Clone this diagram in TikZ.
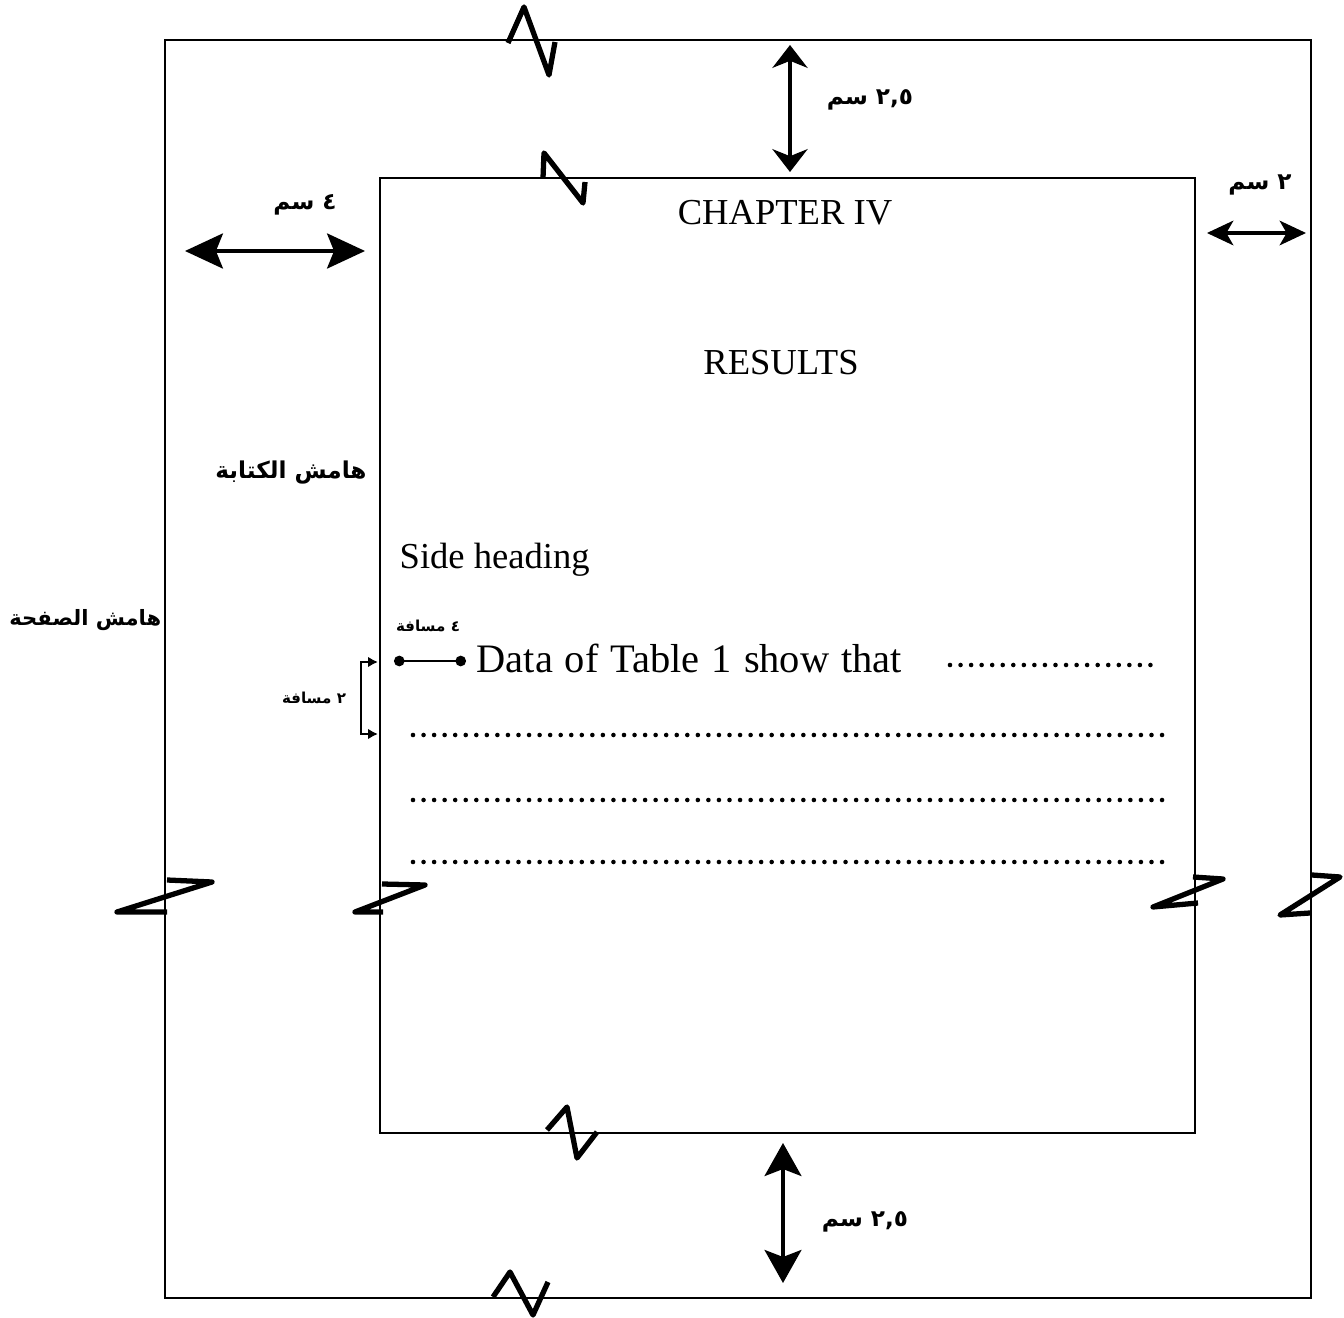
\documentclass[tikz,border=0pt]{standalone}
\usepackage{fontspec}
\setmainfont{Liberation Serif}
\newfontfamily\arabicfont[Script=Arabic]{DejaVu Sans}
\TeXXeTstate=1
\usetikzlibrary{arrows.meta}

\tikzset{
    sheet/.style={line width=0.8pt},
    breakmark/.style={line width=1.5pt, line join=round},
    dimarrow/.style 2 args={line width=0.9pt, {Stealth[length=#1,width=#2,inset=2pt]}-{Stealth[length=#1,width=#2,inset=2pt]}},
    arlabel/.style={inner sep=0pt, font=\arabicfont\bfseries\fontsize{6.6}{8}\selectfont},
    smalllabel/.style={inner sep=0pt, font=\arabicfont\bfseries\fontsize{4.3}{5}\selectfont},
    dotrow/.style={line width=1.3pt, line cap=round, dash pattern=on 0pt off 3pt},
}

\begin{document}
\begin{tikzpicture}[x=0.01cm, y=-0.01cm, font=\fontsize{10.4}{12}\selectfont]
            \useasboundingbox (0,0) rectangle (1344,1318);
            % page and text area
            \coordinate (pageNW) at (165,40);
            \coordinate (pageSE) at (1311,1298);
            \coordinate (textNW) at (380,178);
            \coordinate (textSE) at (1195,1133);
            \draw[sheet] (pageNW) rectangle (pageSE);
            \draw[sheet] (textNW) rectangle (textSE);
            % break marks
            \draw[breakmark] (508,43)--(524,7)--(549,75)--(555,42);
            \draw[breakmark] (543,178)--(544,153)--(583,203)--(585,182);
            \draw[breakmark] (547,1130)--(567,1107)--(577,1158)--(597,1132);
            \draw[breakmark] (493,1297)--(510,1272)--(533,1315)--(548,1282);
            \draw[breakmark] (167,880)--(212,882)--(117,912)--(167,912);
            \draw[breakmark] (382,884)--(425,885)--(355,912)--(383,912);
            \draw[breakmark] (1193,877)--(1223,879)--(1153,907)--(1198,903);
            \draw[breakmark] (1312,875)--(1340,877)--(1280,915)--(1310,913);
            % margins
            \coordinate (topA) at (790,45);
            \coordinate (topB) at (790,172);
            \draw[dimarrow={6.5pt}{10pt}] (topA) -- (topB);
            \node[arlabel] (topgap) at (870,100) {\beginR ٢,٥ سم\endR};
            \coordinate (leftA) at (185,251);
            \coordinate (leftB) at (365,251);
            \draw[dimarrow={10.8pt}{10pt}] (leftA) -- (leftB);
            \node[arlabel] (leftgap) at (305,205) {\beginR ٤ سم\endR};
            \coordinate (rightA) at (1207,233);
            \coordinate (rightB) at (1306,233);
            \draw[dimarrow={7.5pt}{7pt}] (rightA) -- (rightB);
            \node[arlabel] (rightgap) at (1260,185) {\beginR ٢ سم\endR};
            \coordinate (botA) at (783,1143);
            \coordinate (botB) at (783,1283);
            \draw[dimarrow={9.4pt}{10.5pt}] (botA) -- (botB);
            \node[arlabel] (botgap) at (865,1222) {\beginR ٢,٥ سم\endR};
            \node[arlabel] (writing) at (291,473) {\beginR هامش الكتابة\endR};
            \node[arlabel, anchor=east, font=\arabicfont\bfseries\fontsize{6}{7}\selectfont] (margin) at (162,620) {\beginR هامش الصفحة\endR};
            % text of the page
            \node (chapter) at (785,213) {CHAPTER IV};
            \node (results) at (781,363) {RESULTS};
            \node[anchor=west, inner sep=0pt] (side) at (399,560) {Side heading};
            \node[anchor=west, inner sep=0pt, font=\fontsize{11.5}{13}\selectfont] (data) at (476,658) {\spaceskip=3.4pt Data of Table 1 show that};
            \draw[dotrow] (950,665) -- (1158,665);
            \foreach \y in {735,800,862}
                \draw[dotrow] (413,\y) -- (1163,\y);
            % spacing marks
            \coordinate (indA) at (394,661);
            \coordinate (indB) at (466,661);
            \draw[line width=0.6pt, {Circle[length=3pt]}-{Circle[length=3pt]}] (indA) -- (indB);
            \node[smalllabel] (indent) at (428,626) {\beginR ٤ مسافة\endR};
            \coordinate (lineA) at (378,662);
            \coordinate (lineB) at (378,734);
            \draw[line width=0.8pt, {Latex[length=2.8pt,width=3pt]}-{Latex[length=2.8pt,width=3pt]}] (lineA) -- (361,662) -- (361,734) -- (lineB);
            \node[smalllabel] (linegap) at (314,698) {\beginR ٢ مسافة\endR};
\end{tikzpicture}
\end{document}
